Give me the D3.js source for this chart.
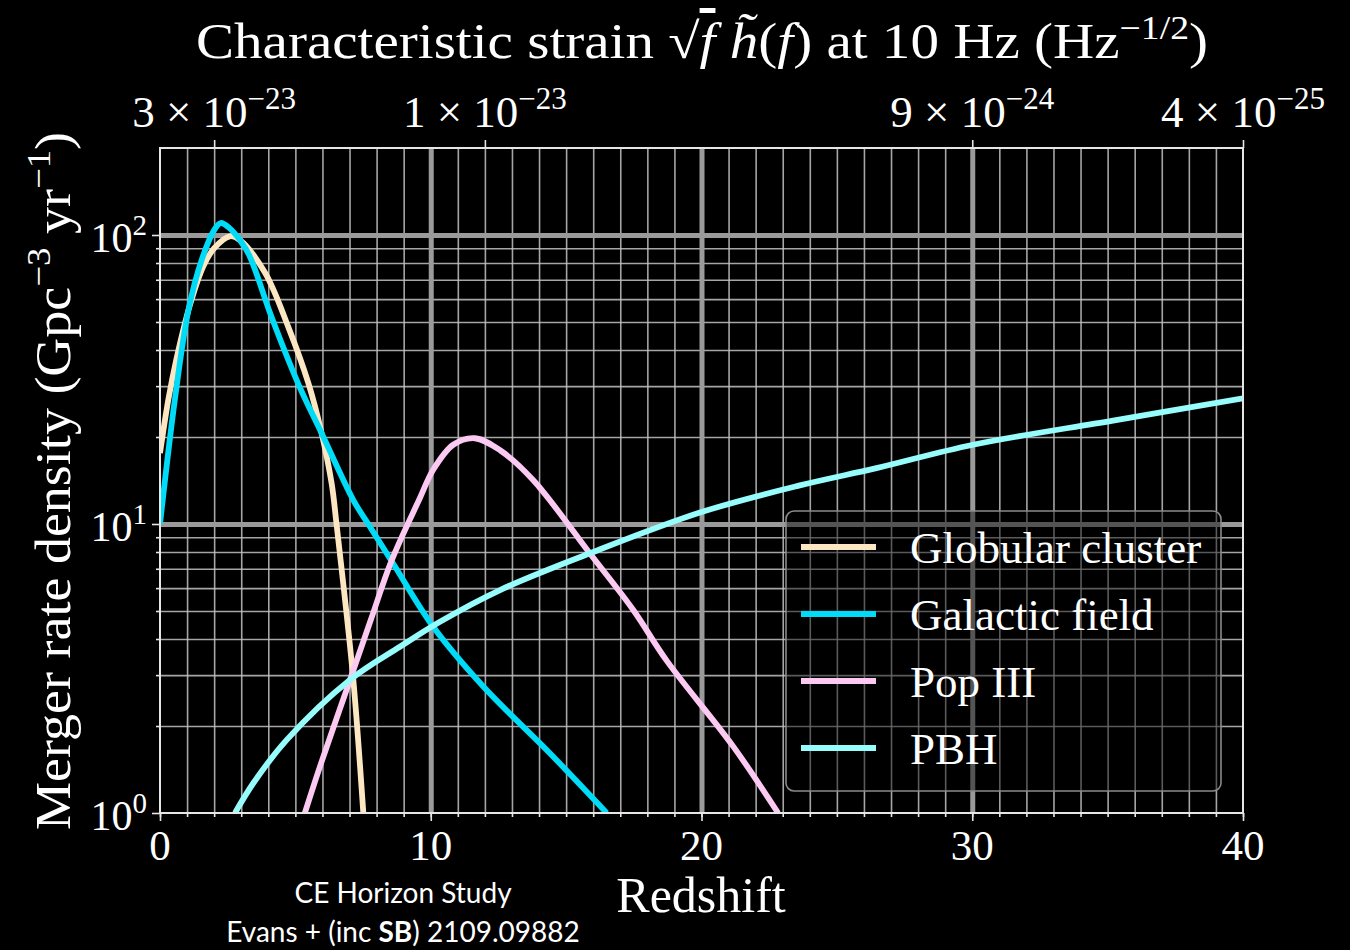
<!DOCTYPE html>
<html><head><meta charset="utf-8">
<script src="https://cdn.jsdelivr.net/npm/d3@7"></script>
<style>body{margin:0;background:#000}svg{display:block}</style>
</head><body><svg id="c" width="1350" height="950"></svg>
<script>
// ---------- data ----------
const gcZ = [0, 0.31, 0.6, 1.1, 1.6, 2.0, 2.58, 2.95, 3.88, 4.74, 5.48, 5.97, 6.34, 6.52, 6.77, 7.14, 7.51];
const gcV = [17.6, 27, 37, 57, 78, 90, 99, 96, 74, 48, 30.7, 20.6, 13.8, 10, 6.2, 2.89, 1];

const gfZ = [0, 0.55, 1.05, 1.54, 2.0, 2.24, 2.6, 2.95, 3.3, 4.12, 5.11, 5.97, 7.14, 7.69, 8.61, 10.09, 11.94, 14.4, 16.5];
const gfV = [10, 27, 55, 82, 104, 110, 105, 96, 85, 52, 30.5, 20.6, 12.1, 10, 7.3, 4.41, 2.74, 1.61, 1];

const p3Z = [5.35, 5.91, 7.02, 7.8, 8.56, 9.6, 10.09, 10.83, 11.63, 12.56, 13.78, 15.88, 17.48, 18.7, 21.17, 22.83];
const p3V = [1, 1.45, 2.89, 4.7, 7.5, 12.3, 15.4, 18.8, 19.8, 18.0, 14.2, 7.9, 5.04, 3.38, 1.7, 1];

const pbhZ = [2.77, 3.45, 4.68, 7.02, 8.86, 10.34, 12.56, 15.88, 20.0, 23.63, 26.46, 30.03, 35.2, 40];
const pbhV = [1, 1.27, 1.79, 2.89, 3.76, 4.59, 5.91, 7.92, 11.0, 13.6, 15.6, 18.8, 22.8, 27.2];

const seriesNames = ["Globular cluster", "Galactic field", "Pop III", "PBH"];
const seriesColors = ["#fde6c2", "#00dcf8", "#fbc9f2", "#97fcfc"];

const xMajor = [0, 10, 20, 30, 40];
const yMajor = [1, 10, 100];
const yMajorExp = ["0", "1", "2"];
const topTickZ = [2.0, 12.0, 30, 40];
const topTickMant = ["3", "1", "9", "4"];
const topTickExp = ["−23", "−23", "−24", "−25"];

// ---------- layout ----------
const L = 160, R = 1243, T = 148, B = 813;
const svg = d3.select("#c");
svg.append("rect").attr("width", 1350).attr("height", 950).attr("fill", "#000");

const x = d3.scaleLinear().domain([0, 40]).range([L, R]);
const y = d3.scaleLog().domain([1, 200]).range([B, T]);

const xMinor = d3.range(1, 40).filter(v => v % 10 !== 0);
const yMinor = [];
[1, 10, 100].forEach(d => d3.range(2, 10).forEach(k => { if (d * k < 200) yMinor.push(d * k); }));

const font = "'Liberation Serif', 'DejaVu Serif', serif";

// grid (minor)
const gGrid = svg.append("g");
gGrid.append("g").attr("transform", `translate(0,${B})`)
  .call(d3.axisBottom(x).tickValues(xMinor).tickSize(-(B - T)).tickFormat(""))
  .call(g => g.select(".domain").remove())
  .selectAll("line").attr("stroke", "#c2c2c2").attr("stroke-width", 1.6).attr("stroke-opacity", 0.85);
gGrid.append("g").attr("transform", `translate(${L},0)`)
  .call(d3.axisLeft(y).tickValues(yMinor).tickSize(-(R - L)).tickFormat(""))
  .call(g => g.select(".domain").remove())
  .selectAll("line").attr("stroke", "#c2c2c2").attr("stroke-width", 1.6).attr("stroke-opacity", 0.85);
// grid (major)
gGrid.append("g").attr("transform", `translate(0,${B})`)
  .call(d3.axisBottom(x).tickValues([10, 20, 30]).tickSize(-(B - T)).tickFormat(""))
  .call(g => g.select(".domain").remove())
  .selectAll("line").attr("stroke", "#9a9a9a").attr("stroke-width", 5);
gGrid.append("g").attr("transform", `translate(${L},0)`)
  .call(d3.axisLeft(y).tickValues([10, 100]).tickSize(-(R - L)).tickFormat(""))
  .call(g => g.select(".domain").remove())
  .selectAll("line").attr("stroke", "#9a9a9a").attr("stroke-width", 5);

// curves
svg.append("clipPath").attr("id", "clip").append("rect")
  .attr("x", L).attr("y", T).attr("width", R - L).attr("height", B - T);
const line = d3.line().x(d => x(d[0])).y(d => y(d[1])).curve(d3.curveCatmullRom.alpha(0.5));
const series = [
  d3.zip(gcZ, gcV), d3.zip(gfZ, gfV), d3.zip(p3Z, p3V), d3.zip(pbhZ, pbhV)
];
const gCurves = svg.append("g").attr("clip-path", "url(#clip)");
series.forEach((s, i) => {
  gCurves.append("path").datum(s).attr("d", line).attr("fill", "none")
    .attr("stroke", seriesColors[i]).attr("stroke-width", 5.8)
    .attr("stroke-linejoin", "round").attr("stroke-linecap", "butt");
});

// spines
svg.append("rect").attr("x", L).attr("y", T).attr("width", R - L).attr("height", B - T)
  .attr("fill", "none").attr("stroke", "#e6e6e6").attr("stroke-width", 2);

// axis ticks
const tickStyle = g => { g.select(".domain").remove(); g.selectAll("line").attr("stroke", "#e6e6e6").attr("stroke-width", 1.6); g.selectAll("text").remove(); };
svg.append("g").attr("transform", `translate(0,${B})`)
  .call(d3.axisBottom(x).tickValues(d3.range(0, 41)).tickSize(4)).call(tickStyle);
svg.append("g").attr("transform", `translate(0,${B})`)
  .call(d3.axisBottom(x).tickValues(xMajor).tickSize(8)).call(tickStyle);
svg.append("g").attr("transform", `translate(${L},0)`)
  .call(d3.axisLeft(y).tickValues(yMinor).tickSize(4)).call(tickStyle);
svg.append("g").attr("transform", `translate(${L},0)`)
  .call(d3.axisLeft(y).tickValues(yMajor).tickSize(8)).call(tickStyle);
svg.append("g").attr("transform", `translate(0,${T})`)
  .call(d3.axisTop(x).tickValues(topTickZ).tickSize(8)).call(tickStyle);

// tick labels
const labels = svg.append("g").attr("fill", "#fff").style("font-family", font);
xMajor.forEach(v => {
  labels.append("text").attr("x", x(v)).attr("y", B + 47).attr("text-anchor", "middle")
    .attr("font-size", 43).text(v);
});
yMajor.forEach((v, i) => {
  const t = labels.append("text").attr("x", 147).attr("y", y(v) + 17).attr("text-anchor", "end").attr("font-size", 42);
  t.append("tspan").text("10");
  t.append("tspan").attr("dy", -17).attr("font-size", 29).text(yMajorExp[i]);
});
topTickZ.forEach((v, i) => {
  const t = labels.append("text").attr("x", x(v)).attr("y", T - 21).attr("text-anchor", "middle").attr("font-size", 45);
  t.append("tspan").text(topTickMant[i] + " × 10");
  t.append("tspan").attr("dy", -18).attr("font-size", 31).text(topTickExp[i]);
});

// title
const title = svg.append("text").attr("x", 702).attr("y", 58).attr("text-anchor", "middle")
  .attr("fill", "#fff").attr("font-size", 50).style("font-family", font)
  .attr("textLength", 1012).attr("lengthAdjust", "spacingAndGlyphs");
title.append("tspan").text("Characteristic strain √");
title.append("tspan").attr("font-style", "italic").style("text-decoration", "overline").text("f");
title.append("tspan").attr("font-style", "italic").text(" h̃");
title.append("tspan").text("(");
title.append("tspan").attr("font-style", "italic").text("f");
title.append("tspan").text(") at 10 Hz (Hz");
title.append("tspan").attr("dy", -19).attr("font-size", 33).text("−1/2");
title.append("tspan").attr("dy", 19).text(")");

// x label
svg.append("text").attr("x", 701).attr("y", 912).attr("text-anchor", "middle")
  .attr("fill", "#fff").attr("font-size", 50).style("font-family", font).text("Redshift");

// y label
const yl = svg.append("text").attr("transform", "translate(70,481) rotate(-90)").attr("text-anchor", "middle")
  .attr("fill", "#fff").attr("font-size", 50).style("font-family", font)
  .attr("textLength", 698).attr("lengthAdjust", "spacingAndGlyphs");
yl.append("tspan").text("Merger rate density (Gpc");
yl.append("tspan").attr("dy", -20).attr("font-size", 34).text("−3");
yl.append("tspan").attr("dy", 20).text(" yr");
yl.append("tspan").attr("dy", -20).attr("font-size", 34).text("−1");
yl.append("tspan").attr("dy", 20).text(")");

// legend
const lg = svg.append("g");
lg.append("rect").attr("x", 786).attr("y", 511).attr("width", 435).attr("height", 280).attr("rx", 8)
  .attr("fill", "#000").attr("fill-opacity", 0.45).attr("stroke", "#8a8a8a").attr("stroke-width", 1.6);
seriesNames.forEach((n, i) => {
  const yy = 547 + i * 67;
  lg.append("line").attr("x1", 801).attr("x2", 876).attr("y1", yy).attr("y2", yy)
    .attr("stroke", seriesColors[i]).attr("stroke-width", 5.8);
  lg.append("text").attr("x", 910).attr("y", yy + 16).attr("fill", "#fff").attr("font-size", 45)
    .style("font-family", font).text(n);
});

// credit
const cr = svg.append("g").attr("fill", "#fff").style("font-family", "Lato, 'Open Sans', sans-serif").attr("font-size", 28).attr("text-anchor", "middle");
cr.append("text").attr("x", 403).attr("y", 903).text("CE Horizon Study");
const c2 = cr.append("text").attr("x", 403).attr("y", 942);
c2.append("tspan").text("Evans + (inc ");
c2.append("tspan").attr("font-weight", "bold").text("SB");
c2.append("tspan").text(") 2109.09882");
</script></body></html>
